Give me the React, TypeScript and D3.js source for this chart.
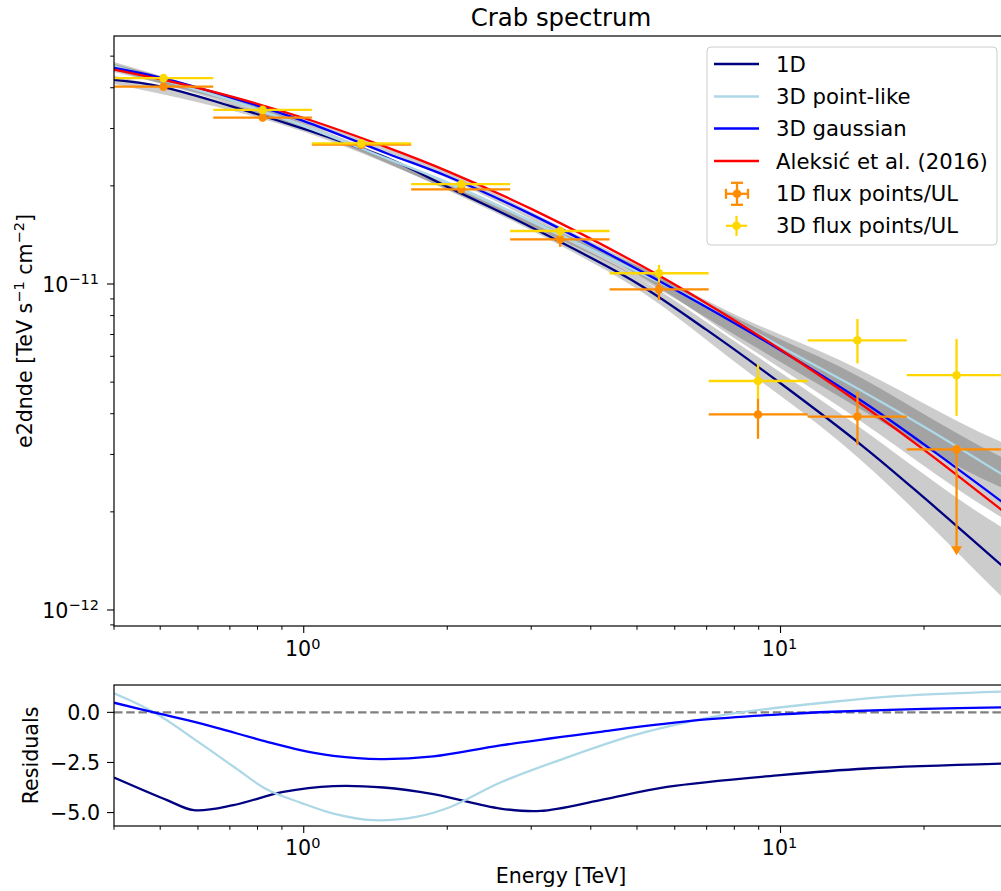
import React from "react";
import * as d3 from "d3";

// ---------- data ----------
const E_GRID = [0.4, 0.5, 0.7, 1, 1.5, 2, 3, 5, 7, 10, 15, 20, 30];
const MODEL_1D = [4.23e-11, 4.04e-11, 3.52e-11, 2.99e-11, 2.43e-11, 1.987e-11, 1.493e-11, 1.006e-11, 7.23e-12, 4.96e-12, 3.15e-12, 2.21e-12, 1.317e-12];
const MODEL_3D_POINT = [4.66e-11, 4.25e-11, 3.67e-11, 3.05e-11, 2.42e-11, 2.05e-11, 1.562e-11, 1.093e-11, 8.6e-12, 6.43e-12, 4.65e-12, 3.65e-12, 2.54e-12];
const MODEL_3D_GAUSS = [4.6e-11, 4.3e-11, 3.745e-11, 3.16e-11, 2.51e-11, 2.14e-11, 1.635e-11, 1.112e-11, 8.48e-12, 6.26e-12, 4.32e-12, 3.22e-12, 2.08e-12];
const MODEL_MAGIC = [4.55e-11, 4.25e-11, 3.77e-11, 3.23e-11, 2.62e-11, 2.22e-11, 1.7e-11, 1.157e-11, 8.72e-12, 6.3e-12, 4.21e-12, 3.1e-12, 1.957e-12];

const BAND_E = [0.4, 1.0, 2.15, 3.47, 5.08, 8.23, 13.3, 29.0, 30];
const BAND_POINT_HI = [4.8e-11, 3.12e-11, 1.956e-11, 1.434e-11, 1.127e-11, 7.92e-12, 5.85e-12, 3.28e-12, 3.21e-12];
const BAND_POINT_LO = [4.53e-11, 2.99e-11, 1.862e-11, 1.364e-11, 1.036e-11, 6.83e-12, 4.51e-12, 2.38e-12, 2.33e-12];
const BAND_GAUSS_HI = [4.73e-11, 3.23e-11, 2.115e-11, 1.496e-11, 1.135e-11, 7.75e-12, 5.58e-12, 2.95e-12, 2.88e-12];
const BAND_GAUSS_LO = [4.47e-11, 3.1e-11, 2.012e-11, 1.413e-11, 1.058e-11, 6.64e-12, 4.2e-12, 1.93e-12, 1.875e-12];
const BAND_1D_HI = [4.35e-11, 3.05e-11, 1.929e-11, 1.389e-11, 1.036e-11, 6.5e-12, 4.02e-12, 1.8e-12, 1.747e-12];
const BAND_1D_LO = [4.11e-11, 2.93e-11, 1.849e-11, 1.308e-11, 9.52e-12, 5.6e-12, 3.28e-12, 1.104e-12, 1.051e-12];

const FP_E = [0.508, 0.82, 1.32, 2.14, 3.45, 5.56, 8.97, 14.5, 23.4];
const FP_E_MIN = [0.4, 0.646, 1.04, 1.68, 2.71, 4.38, 7.07, 11.4, 18.4];
const FP_E_MAX = [0.646, 1.04, 1.68, 2.71, 4.38, 7.07, 11.4, 18.4, 30];

const FP1D = [4.03e-11, 3.24e-11, 2.675e-11, 1.952e-11, 1.371e-11, 9.63e-12, 3.98e-12, 3.92e-12, 3.11e-12];
const FP1D_LO = [3.97e-11, 3.19e-11, 2.63e-11, 1.91e-11, 1.3e-11, 8.93e-12, 3.35e-12, 3.21e-12, 1.52e-12];
const FP1D_HI = [4.09e-11, 3.29e-11, 2.72e-11, 1.99e-11, 1.445e-11, 1.016e-11, 4.46e-12, 4.67e-12, 3.11e-12];
const FP1D_UL = [false, false, false, false, false, false, false, false, true];

const FP3D = [4.28e-11, 3.42e-11, 2.7e-11, 2.026e-11, 1.454e-11, 1.079e-11, 5.04e-12, 6.72e-12, 5.25e-12];
const FP3D_LO = [4.22e-11, 3.37e-11, 2.66e-11, 1.99e-11, 1.4e-11, 1.014e-11, 4.46e-12, 5.71e-12, 3.94e-12];
const FP3D_HI = [4.34e-11, 3.47e-11, 2.74e-11, 2.06e-11, 1.5e-11, 1.144e-11, 5.67e-12, 7.81e-12, 6.78e-12];

const RES_GAUSS_E = [0.4, 0.485, 0.607, 0.838, 0.984, 1.154, 1.448, 1.87, 2.585, 4.19, 6.79, 9.99, 12.9, 20, 30];
const RES_GAUSS = [0.48, 0, -0.55, -1.47, -1.88, -2.17, -2.33, -2.2, -1.65, -0.97, -0.38, -0.1, 0.03, 0.17, 0.26];
const RES_POINT_E = [0.4, 0.485, 0.607, 0.712, 0.838, 0.984, 1.154, 1.4, 1.731, 2.03, 2.585, 3.566, 4.91, 6.79, 7.96, 12.9, 17.8, 30];
const RES_POINT = [0.95, 0, -1.55, -2.7, -3.85, -4.5, -5.05, -5.38, -5.2, -4.72, -3.5, -2.25, -1.15, -0.35, -0.05, 0.53, 0.82, 1.05];
const RES_1D_E = [0.4, 0.517, 0.588, 0.712, 0.906, 1.154, 1.47, 1.87, 2.585, 3.135, 4.19, 5.78, 9.99, 15.2, 30];
const RES_1D = [-3.25, -4.38, -4.88, -4.63, -3.97, -3.68, -3.75, -4.08, -4.8, -4.92, -4.38, -3.72, -3.13, -2.8, -2.55];

const X_MAJOR = [1, 10];
const X_MINOR = [0.4, 0.5, 0.6, 0.7, 0.8, 0.9, 2, 3, 4, 5, 6, 7, 8, 9, 20, 30];
const Y_MAJOR = [1e-12, 1e-11];
const Y_MAJOR_EXP = ["−12", "−11"];
const Y_MINOR = [9e-13, 2e-12, 3e-12, 4e-12, 5e-12, 6e-12, 7e-12, 8e-12, 9e-12, 2e-11, 3e-11, 4e-11, 5e-11];
const RES_TICKS = [0, -2.5, -5];
const RES_TICK_LABELS = ["0.0", "−2.5", "−5.0"];

const LEGEND_LINES = [
  { label: "1D", color: "#000080" },
  { label: "3D point-like", color: "#add8e6" },
  { label: "3D gaussian", color: "#0000ff" },
  { label: "Aleksić et al. (2016)", color: "#ff0000" },
];

// ---------- layout ----------
const W = 1001, H = 891;
const X0 = 114, X1 = 1008;
const MT = 36, MB = 626;
const RT = 685, RB = 826;
const FONT = "DejaVu Sans";
const FS = 20.6;
const LFS = 21.2;
const LW = 2.3;
const ORANGE = "#ff8c00";
const GOLD = "#ffd700";

export default function App() {
  const x = d3.scaleLog().domain([0.4, 30]).range([X0, X1]);
  const y = d3.scaleLog().domain([8.93e-13, 5.765e-11]).range([MB, MT]);
  const yr = d3.scaleLinear().domain([-5.67, 1.365]).range([RB, RT]);

  const curve = d3.curveCatmullRom.alpha(0.5);
  const line = d3.line<[number, number]>().x((d) => x(d[0])).y((d) => y(d[1])).curve(curve);
  const rline = d3.line<[number, number]>().x((d) => x(d[0])).y((d) => yr(d[1])).curve(curve);
  const area = d3
    .area<[number, number, number]>()
    .x((d) => x(d[0]))
    .y0((d) => y(d[1]))
    .y1((d) => y(d[2]))
    .curve(d3.curveMonotoneX);

  const zip = (e: number[], v: number[]) => e.map((ee, i) => [ee, v[i]] as [number, number]);
  const band = (lo: number[], hi: number[]) => BAND_E.map((e, i) => [e, lo[i], hi[i]] as [number, number, number]);

  const models = [
    { v: MODEL_1D, c: "#000080" },
    { v: MODEL_3D_POINT, c: "#add8e6" },
    { v: MODEL_3D_GAUSS, c: "#0000ff" },
    { v: MODEL_MAGIC, c: "#ff0000" },
  ];

  const xTicks = (bot: number, labelY: number, key: string) => (
    <g key={key}>
      {X_MINOR.map((t) => (
        <line key={"mi" + t} x1={x(t)} x2={x(t)} y1={bot} y2={bot + 3.8} stroke="#000" strokeWidth={1} />
      ))}
      {X_MAJOR.map((t, i) => (
        <g key={"ma" + t}>
          <line x1={x(t)} x2={x(t)} y1={bot} y2={bot + 7} stroke="#000" strokeWidth={1.1} />
          <text x={x(t) - 1} y={labelY} textAnchor="middle" fontSize={FS}>
            10<tspan dy={-7.5} fontSize={14.5}>{String(i)}</tspan>
          </text>
        </g>
      ))}
    </g>
  );

  const legendRows = [64, 96.5, 128.5, 161, 193.8, 225.8];

  return (
    <svg
      width={W}
      height={H}
      style={{ position: "absolute", left: 0, top: 0, display: "block", background: "#fff" }}
      fontFamily={FONT}
    >
      <defs>
        <clipPath id="mainclip">
          <rect x={X0} y={MT} width={X1 - X0} height={MB - MT} />
        </clipPath>
        <clipPath id="resclip">
          <rect x={X0} y={RT} width={X1 - X0} height={RB - RT} />
        </clipPath>
      </defs>
      <rect x={0} y={0} width={W} height={H} fill="#fff" />

      {/* title */}
      <text x={(X0 + X1) / 2} y={26} textAnchor="middle" fontSize={24.4}>
        Crab spectrum
      </text>

      {/* ---------- main panel ---------- */}
      <g clipPath="url(#mainclip)">
        <path d={area(band(BAND_1D_LO, BAND_1D_HI)) || ""} fill="#000" fillOpacity={0.2} />
        <path d={area(band(BAND_POINT_LO, BAND_POINT_HI)) || ""} fill="#000" fillOpacity={0.2} />
        <path d={area(band(BAND_GAUSS_LO, BAND_GAUSS_HI)) || ""} fill="#000" fillOpacity={0.2} />
        {models.map((m, i) => (
          <path key={i} d={line(zip(E_GRID, m.v)) || ""} fill="none" stroke={m.c} strokeWidth={LW} />
        ))}
        {/* 1D flux points */}
        {FP_E.map((e, i) => (
          <g key={"o" + i}>
            <line x1={x(FP_E_MIN[i])} x2={x(FP_E_MAX[i])} y1={y(FP1D[i])} y2={y(FP1D[i])} stroke={ORANGE} strokeWidth={LW} />
            <line x1={x(e)} x2={x(e)} y1={y(FP1D_LO[i])} y2={y(FP1D_HI[i])} stroke={ORANGE} strokeWidth={LW} />
            {FP1D_UL[i] && (
              <path
                d={`M${x(e) - 5.5},${y(FP1D_LO[i]) - 4.5} L${x(e) + 5.5},${y(FP1D_LO[i]) - 4.5} L${x(e)},${y(FP1D_LO[i]) + 4.5} Z`}
                fill={ORANGE}
              />
            )}
            <circle cx={x(e)} cy={y(FP1D[i])} r={4.3} fill={ORANGE} />
          </g>
        ))}
        {/* 3D flux points */}
        {FP_E.map((e, i) => (
          <g key={"y" + i}>
            <line x1={x(FP_E_MIN[i])} x2={x(FP_E_MAX[i])} y1={y(FP3D[i])} y2={y(FP3D[i])} stroke={GOLD} strokeWidth={LW} />
            <line x1={x(e)} x2={x(e)} y1={y(FP3D_LO[i])} y2={y(FP3D_HI[i])} stroke={GOLD} strokeWidth={LW} />
            <circle cx={x(e)} cy={y(FP3D[i])} r={4.3} fill={GOLD} />
          </g>
        ))}
      </g>

      {/* main spines */}
      <rect x={X0} y={MT} width={X1 - X0} height={MB - MT} fill="none" stroke="#000" strokeWidth={1.2} />

      {/* main y ticks */}
      {Y_MINOR.map((t) => (
        <line key={"ymi" + t} x1={X0 - 3.8} x2={X0} y1={y(t)} y2={y(t)} stroke="#000" strokeWidth={1} />
      ))}
      {Y_MAJOR.map((t, i) => (
        <g key={"yma" + t}>
          <line x1={X0 - 7} x2={X0} y1={y(t)} y2={y(t)} stroke="#000" strokeWidth={1.1} />
          <text x={99} y={y(t) + 7.7} textAnchor="end" fontSize={FS}>
            10<tspan dy={-8} fontSize={14.5}>{Y_MAJOR_EXP[i]}</tspan>
          </text>
        </g>
      ))}
      {xTicks(MB, 656, "xt-main")}

      {/* y label */}
      <text transform={`translate(31.7,${(MT + MB) / 2}) rotate(-90)`} textAnchor="middle" fontSize={FS}>
        e2dnde [TeV s<tspan dy={-7.5} fontSize={14.5}>−1</tspan>
        <tspan dy={7.5}> cm</tspan>
        <tspan dy={-7.5} fontSize={14.5}>−2</tspan>
        <tspan dy={7.5}>]</tspan>
      </text>

      {/* legend */}
      <g>
        <rect x={707} y={47} width={290} height={198} rx={4} fill="#fff" fillOpacity={0.8} stroke="#cccccc" strokeWidth={1} />
        {LEGEND_LINES.map((l, i) => (
          <g key={l.label}>
            <line x1={714} x2={759} y1={legendRows[i]} y2={legendRows[i]} stroke={l.color} strokeWidth={LW} />
            <text x={776} y={legendRows[i] + 7.6} fontSize={LFS}>
              {l.label}
            </text>
          </g>
        ))}
        {/* 1D flux points handle with caps */}
        <g>
          <line x1={726} x2={748} y1={legendRows[4]} y2={legendRows[4]} stroke={ORANGE} strokeWidth={LW} />
          <line x1={737} x2={737} y1={legendRows[4] - 11} y2={legendRows[4] + 11} stroke={ORANGE} strokeWidth={LW} />
          <line x1={731} x2={743} y1={legendRows[4] - 11} y2={legendRows[4] - 11} stroke={ORANGE} strokeWidth={LW} />
          <line x1={731} x2={743} y1={legendRows[4] + 11} y2={legendRows[4] + 11} stroke={ORANGE} strokeWidth={LW} />
          <line x1={726} x2={726} y1={legendRows[4] - 5} y2={legendRows[4] + 5} stroke={ORANGE} strokeWidth={LW} />
          <line x1={748} x2={748} y1={legendRows[4] - 5} y2={legendRows[4] + 5} stroke={ORANGE} strokeWidth={LW} />
          <circle cx={737} cy={legendRows[4]} r={4.3} fill={ORANGE} />
          <text x={776} y={legendRows[4] + 7.6} fontSize={LFS}>
            1D flux points/UL
          </text>
        </g>
        <g>
          <line x1={726} x2={747} y1={legendRows[5]} y2={legendRows[5]} stroke={GOLD} strokeWidth={LW} />
          <line x1={736.5} x2={736.5} y1={legendRows[5] - 10} y2={legendRows[5] + 10} stroke={GOLD} strokeWidth={LW} />
          <circle cx={736.5} cy={legendRows[5]} r={4.3} fill={GOLD} />
          <text x={776} y={legendRows[5] + 7.6} fontSize={LFS}>
            3D flux points/UL
          </text>
        </g>
      </g>

      {/* ---------- residual panel ---------- */}
      <g clipPath="url(#resclip)">
        <line x1={X0} x2={X1} y1={yr(0)} y2={yr(0)} stroke="#808080" strokeWidth={LW} strokeDasharray="8.5,3.7" />
        <path d={rline(zip(RES_1D_E, RES_1D)) || ""} fill="none" stroke="#000080" strokeWidth={LW} />
        <path d={rline(zip(RES_POINT_E, RES_POINT)) || ""} fill="none" stroke="#add8e6" strokeWidth={LW} />
        <path d={rline(zip(RES_GAUSS_E, RES_GAUSS)) || ""} fill="none" stroke="#0000ff" strokeWidth={LW} />
      </g>
      <rect x={X0} y={RT} width={X1 - X0} height={RB - RT} fill="none" stroke="#000" strokeWidth={1.2} />
      {RES_TICKS.map((t, i) => (
        <g key={"rt" + t}>
          <line x1={X0 - 7} x2={X0} y1={yr(t)} y2={yr(t)} stroke="#000" strokeWidth={1.1} />
          <text x={100} y={yr(t) + 7.5} textAnchor="end" fontSize={FS}>
            {RES_TICK_LABELS[i]}
          </text>
        </g>
      ))}
      {xTicks(RB, 855, "xt-res")}
      <text transform={`translate(38,${(RT + RB) / 2}) rotate(-90)`} textAnchor="middle" fontSize={FS}>
        Residuals
      </text>
      <text x={(X0 + X1) / 2} y={883} textAnchor="middle" fontSize={FS}>
        Energy [TeV]
      </text>
    </svg>
  );
}
